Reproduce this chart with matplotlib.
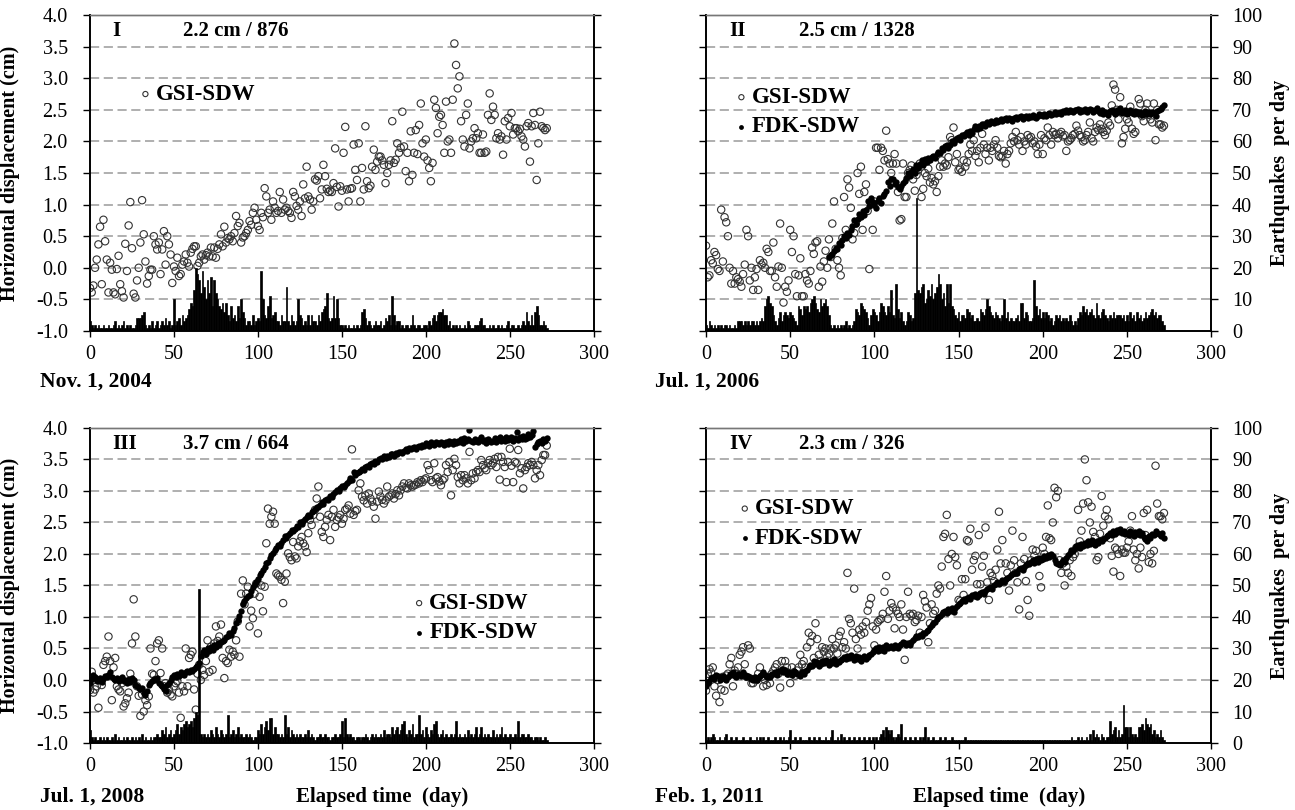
import numpy as np
import matplotlib
matplotlib.use("Agg")
import matplotlib.pyplot as plt

plt.rcParams['font.family'] = ['Liberation Serif', 'DejaVu Serif']

# ---------------- data (displacement in cm, earthquakes per day) ----------------
gsi_1 = [-0.32,-0.39,-0.28,0.00,0.13,0.37,0.65,-0.26,0.76,0.42,
 0.13,-0.39,0.08,-0.03,-0.39,-0.42,-0.02,0.19,-0.26,-0.37,
 -0.47,0.38,-0.05,0.67,1.04,0.31,-0.41,-0.47,-0.20,0.00,
 0.40,1.07,0.53,0.10,-0.25,-0.13,-0.03,-0.03,0.50,0.37,
 0.29,0.40,-0.10,0.29,0.58,0.05,0.50,0.37,0.21,-0.24,
 0.02,-0.05,0.16,-0.13,-0.10,0.05,0.10,0.21,0.08,0.02,
 0.24,0.30,0.34,0.34,0.03,0.08,0.18,0.21,0.13,0.20,
 0.24,0.18,0.32,0.18,0.32,0.16,0.30,0.37,0.53,0.34,
 0.65,0.40,0.47,0.45,0.50,0.42,0.55,0.82,0.66,0.71,
 0.40,0.48,0.50,0.55,0.60,0.74,0.68,0.87,0.95,0.76,
 0.66,0.60,0.87,0.80,1.26,1.13,0.87,0.92,0.76,1.05,
 0.95,0.87,0.90,1.20,0.87,1.08,0.92,0.95,0.90,0.87,
 0.79,1.20,1.13,0.98,0.92,1.05,0.82,1.32,1.10,1.60,
 1.13,1.08,0.92,1.05,1.40,1.38,1.45,1.10,1.24,1.63,
 1.45,1.25,1.20,1.22,1.20,1.34,1.89,1.28,0.97,1.29,
 1.22,1.82,2.23,1.24,1.05,1.25,1.26,1.95,1.55,1.39,
 1.97,1.05,1.58,1.24,2.24,1.37,1.26,1.30,1.60,1.87,
 1.55,1.68,1.76,1.76,1.70,1.63,1.34,1.50,1.63,1.70,
 2.32,1.66,1.71,1.97,1.82,1.90,2.47,1.92,1.53,1.82,
 1.37,2.16,1.47,1.82,2.18,1.80,2.26,2.60,1.97,1.76,
 2.03,1.70,1.58,1.37,1.66,2.66,2.53,2.13,2.39,2.42,
 2.26,1.82,2.63,2.00,2.03,1.82,2.66,3.55,3.21,2.84,
 3.03,2.32,2.03,1.92,2.42,2.60,1.89,2.00,2.05,2.21,
 2.05,2.13,1.82,1.82,2.11,1.82,1.84,2.42,2.76,2.34,
 2.55,2.42,2.05,2.13,2.03,2.08,1.79,2.32,2.03,2.37,
 2.24,2.45,2.11,2.21,2.21,2.16,2.20,2.08,2.03,1.92,
 2.24,2.29,1.68,2.24,2.45,2.26,1.39,1.97,2.47,2.24,
 2.21,2.18,2.21]

eq_1 = [3,2,1,2,1,2,1,1,2,1, 1,2,1,1,2,3,1,2,1,2, 3,1,2,1,2,1,1,2,4,4,
 4,5,6,2,1,2,1,3,1,2, 3,1,2,3,2,4,2,3,1,2, 10,2,3,4,2,5,3,4,5,7,
 9,8,13,20,18,16,12,19,14,10, 16,12,17,8,16,12,10,8,7,9, 6,9,5,3,8,4,5,3,8,4,
 10,6,4,2,3,3,2,5,2,3, 4,3,19,10,5,4,8,11,4,5, 6,3,3,2,5,3,3,14,3,2,
 5,3,2,3,10,5,4,2,3,2, 5,2,5,3,3,2,5,3,6,7, 8,12,4,3,4,11,4,10,4,2,
 2,1,2,1,2,1,1,2,1,2, 1,2,6,7,4,2,3,2,1,2, 3,2,2,3,1,2,4,3,5,2,
 11,5,2,3,3,1,2,1,2,2, 1,2,5,2,1,2,2,1,1,2, 2,1,3,2,4,5,3,5,6,6,
 7,5,5,2,3,1,2,1,2,1, 2,1,1,2,1,3,2,1,1,2, 2,2,3,4,2,2,1,1,2,1,
 2,1,1,2,1,2,1,1,2,3, 1,2,2,1,1,2,1,2,3,2, 6,3,2,5,2,6,8,5,2,2, 3,2,1]

gsi_2 = [0.35,-0.15,-0.12,0.12,0.07,0.25,0.20,-0.02,-0.05,0.92,
 0.10,0.80,0.72,0.50,0.00,-0.25,-0.05,-0.25,-0.15,-0.18,
 -0.22,-0.30,-0.10,0.05,0.60,0.50,-0.20,0.00,-0.35,-0.15,
 -0.02,-0.35,0.12,0.05,0.08,0.00,0.30,0.25,-0.05,-0.05,
 0.40,-0.15,-0.30,0.02,0.70,0.00,-0.55,-0.30,-0.38,-0.20,
 0.60,0.25,0.50,-0.10,-0.45,-0.12,0.15,-0.45,-0.45,-0.10,
 -0.20,-0.25,-0.05,0.32,0.22,0.40,0.42,-0.30,0.02,-0.22,
 0.10,0.27,0.00,0.45,0.17,0.70,1.05,0.30,0.12,0.00,
 -0.12,0.47,1.12,0.60,1.40,1.27,0.95,0.45,0.55,0.70,
 1.50,1.17,1.60,0.60,1.20,1.32,0.90,-0.02,1.00,0.60,
 1.05,1.90,1.90,1.55,1.90,1.85,1.70,2.17,1.72,1.65,
 1.50,1.65,1.80,1.65,1.20,0.75,0.77,1.65,1.12,1.12,
 1.50,1.55,1.62,1.40,1.22,1.47,1.55,1.65,1.12,1.25,
 1.50,1.45,1.57,1.35,1.42,1.32,1.37,1.20,1.45,1.60,
 1.70,1.60,1.65,1.62,1.75,2.07,2.02,2.22,1.67,1.80,
 1.55,1.57,1.52,1.70,1.60,1.67,1.80,1.95,1.85,2.02,
 1.77,1.85,1.67,1.90,2.12,1.95,1.80,1.90,1.70,1.90,
 1.85,1.95,2.02,1.90,1.77,1.75,1.77,1.85,1.65,1.80,
 1.85,1.97,2.07,2.00,2.15,2.02,1.95,2.07,1.85,2.00,
 1.95,2.10,2.05,2.07,1.97,2.00,1.92,1.80,1.95,2.10,
 1.80,2.05,2.02,2.22,2.10,1.95,2.15,2.10,2.12,2.05,
 2.12,2.15,2.08,2.10,1.85,2.00,2.02,2.05,2.10,2.12,
 2.25,2.17,2.10,2.07,2.00,2.02,2.10,2.15,2.30,2.05,
 2.00,2.15,2.22,2.18,2.27,2.20,2.15,2.10,2.17,2.30,
 2.25,2.57,2.90,2.82,2.50,2.35,2.70,1.97,2.07,2.20,
 2.35,2.30,2.55,2.20,2.12,2.15,2.45,2.67,2.60,2.40,
 2.32,2.50,2.60,2.42,2.35,2.30,2.60,2.02,2.50,2.27,
 2.27,2.22,2.25]

fdk_2_start = 73
fdk_2 = [0.17,0.20,0.22,0.27,0.32,0.30,0.40,0.36,0.44,0.50,
 0.47,0.55,0.52,0.60,0.66,0.75,0.70,0.78,0.85,0.80,
 0.90,0.84,0.92,1.05,0.98,1.10,1.04,1.00,0.95,1.06,
 1.10,1.02,1.14,1.17,1.22,1.35,1.30,1.40,1.40,1.32,
 1.35,1.28,1.25,1.30,1.34,1.37,1.42,1.50,1.46,1.52,
 1.57,1.50,1.62,1.58,1.65,1.70,1.62,1.72,1.68,1.74,
 1.70,1.76,1.77,1.73,1.80,1.84,1.82,1.90,1.86,1.92,
 1.95,1.90,1.95,2.00,1.97,2.02,2.05,2.07,2.03,2.10,
 2.08,2.12,2.15,2.10,2.17,2.14,2.20,2.25,2.19,2.24,
 2.22,2.27,2.27,2.24,2.30,2.28,2.32,2.30,2.29,2.34,
 2.31,2.33,2.36,2.32,2.35,2.37,2.34,2.37,2.36,2.33,
 2.37,2.39,2.35,2.38,2.40,2.36,2.39,2.41,2.37,2.40,
 2.38,2.42,2.39,2.37,2.41,2.43,2.42,2.40,2.44,2.41,
 2.43,2.45,2.42,2.44,2.46,2.43,2.45,2.47,2.44,2.48,
 2.46,2.49,2.47,2.50,2.48,2.46,2.50,2.49,2.52,2.47,
 2.50,2.48,2.51,2.47,2.49,2.52,2.50,2.46,2.49,2.53,
 2.48,2.45,2.50,2.44,2.47,2.45,2.42,2.48,2.50,2.46,
 2.44,2.49,2.47,2.53,2.45,2.47,2.50,2.44,2.46,2.49,
 2.45,2.43,2.48,2.46,2.44,2.47,2.42,2.45,2.48,2.43,
 2.46,2.44,2.47,2.45,2.41,2.48,2.50,2.52,2.55,2.57]

eq_2 = [2,1,3,2,1,2,1,2,1,2, 1,2,2,1,2,1,1,2,1,3, 3,3,2,3,2,3,2,3,3,2,
 3,2,3,4,3,8,10,11,9,8, 5,3,2,4,6,3,5,6,5,4, 6,5,4,3,2,8,7,5,8,7,
 8,6,9,10,11,9,7,6,10,8, 9,10,8,5,2,1,2,1,2,1, 2,1,2,3,1,2,1,2,3,7,
 6,5,9,8,7,6,4,2,5,7, 6,5,3,6,9,8,6,5,8,6, 13,5,4,15,7,4,6,3,2,3,
 6,5,3,4,12,42,13,12,14,15, 9,10,13,11,15,10,12,14,18,15, 10,12,8,15,9,15,8,7,5,4,
 6,3,5,5,4,7,6,4,5,3, 3,4,3,7,6,5,7,10,8,6, 5,4,6,5,4,3,5,10,4,6,
 3,4,3,3,4,5,3,9,9,4, 6,5,3,3,4,16,8,5,7,4, 6,4,6,5,3,4,2,3,5,4,
 5,3,4,3,4,3,5,3,2,3, 2,4,6,5,8,6,7,5,6,7, 5,4,9,5,4,6,7,5,4,3,
 5,4,6,4,5,5,5,4,5,3, 5,3,6,4,5,3,6,4,5,3, 4,6,4,5,6,7,5,6,4,5, 5,3,2]

gsi_3 = [-0.16,0.13,-0.20,-0.15,-0.10,-0.44,0.00,-0.08,0.24,0.30,
 0.37,0.69,0.30,-0.32,0.20,0.35,-0.10,-0.15,-0.18,-0.05,
 -0.42,-0.37,-0.29,-0.20,0.10,0.58,1.28,0.69,-0.10,-0.25,
 -0.57,-0.23,-0.50,-0.32,-0.40,-0.26,0.50,0.10,0.08,0.30,
 0.58,0.63,0.11,0.50,-0.10,-0.05,-0.20,-0.15,-0.23,-0.26,
 -0.10,-0.05,-0.02,-0.20,-0.60,-0.10,-0.18,0.50,-0.10,0.35,
 0.40,0.45,-0.15,-0.47,0.10,0.24,0.00,0.16,0.08,0.30,
 0.63,0.13,0.53,0.16,0.58,0.85,0.62,0.69,0.88,0.35,
 0.03,0.30,0.27,0.48,0.37,0.45,0.40,0.63,0.93,0.37,
 1.37,1.58,1.20,1.37,1.48,0.85,1.10,0.98,1.37,1.53,
 0.74,1.32,1.50,1.09,1.48,2.17,2.72,2.48,2.59,2.67,
 2.48,1.69,1.66,1.64,1.59,1.22,1.56,1.69,2.01,1.95,
 1.90,2.19,1.96,1.93,2.12,2.20,2.27,2.17,2.12,2.03,
 2.33,2.54,2.46,2.62,2.70,2.88,3.07,2.59,2.35,2.27,
 2.43,2.54,2.62,2.22,2.59,2.70,2.43,2.54,2.58,2.62,
 2.48,2.56,2.70,2.72,2.77,2.64,3.66,2.62,2.68,2.70,
 3.01,3.12,2.91,2.85,2.93,2.80,2.96,2.88,2.83,2.75,
 2.56,2.83,2.99,2.91,2.86,2.80,2.85,3.07,2.91,2.93,
 2.96,2.88,2.95,3.01,2.93,3.01,3.07,3.12,3.05,3.04,
 3.12,3.09,3.07,3.09,3.10,3.14,3.12,3.17,3.14,3.18,
 3.20,3.41,3.33,3.17,3.14,3.44,3.20,3.22,3.15,3.09,
 3.17,3.20,3.41,3.30,3.46,2.93,3.33,3.51,3.41,3.22,
 3.12,3.25,3.17,3.25,3.20,3.12,3.62,3.17,3.28,3.20,
 3.30,3.33,3.30,3.49,3.41,3.36,3.33,3.44,3.49,3.41,
 3.44,3.51,3.38,3.54,3.18,3.54,3.46,3.38,3.14,3.46,
 3.67,3.40,3.14,3.46,3.44,3.65,3.28,3.36,3.04,3.33,
 3.38,3.44,3.41,3.46,3.41,3.20,3.33,3.41,3.25,3.49,
 3.57,3.57,3.72]

fdk_3 = [-0.05,0.02,0.08,0.05,-0.02,0.00,0.03,-0.03,0.01,0.06,
 0.04,0.08,0.12,0.05,0.02,0.00,0.03,-0.02,0.01,0.04,
 -0.02,0.00,-0.05,0.02,-0.03,0.03,0.00,-0.08,-0.10,-0.12,
 -0.15,-0.12,-0.20,-0.24,-0.18,-0.08,-0.05,-0.02,0.02,0.00,
 0.03,-0.04,-0.08,-0.10,-0.14,-0.18,-0.08,-0.05,0.00,0.04,
 0.08,0.05,0.10,0.07,0.12,0.10,0.08,0.13,0.15,0.12,
 0.16,0.14,0.18,0.20,0.22,0.27,0.38,0.45,0.48,0.42,
 0.50,0.46,0.52,0.48,0.55,0.53,0.58,0.55,0.60,0.62,
 0.64,0.68,0.70,0.74,0.72,0.78,0.82,0.90,0.95,1.02,
 1.10,1.20,1.25,1.30,1.34,1.35,1.42,1.48,1.52,1.56,
 1.60,1.66,1.70,1.74,1.80,1.85,1.88,1.94,1.98,2.02,
 2.06,2.10,2.15,2.12,2.18,2.22,2.28,2.26,2.30,2.34,
 2.38,2.36,2.40,2.44,2.42,2.50,2.48,2.52,2.56,2.58,
 2.62,2.60,2.66,2.68,2.72,2.75,2.74,2.78,2.82,2.80,
 2.85,2.88,2.86,2.92,2.90,2.95,2.98,3.02,3.00,3.05,
 3.08,3.06,3.10,3.12,3.15,3.20,3.18,3.30,3.26,3.28,
 3.30,3.32,3.35,3.33,3.38,3.40,3.38,3.42,3.45,3.43,
 3.48,3.46,3.50,3.52,3.50,3.55,3.53,3.56,3.54,3.58,
 3.58,3.56,3.60,3.59,3.62,3.62,3.60,3.64,3.66,3.63,
 3.68,3.66,3.68,3.70,3.67,3.70,3.72,3.69,3.73,3.71,
 3.76,3.74,3.72,3.77,3.75,3.73,3.78,3.76,3.74,3.77,
 3.76,3.73,3.78,3.75,3.80,3.77,3.74,3.79,3.76,3.80,
 3.78,3.82,3.76,3.84,3.79,3.82,3.96,3.80,3.78,3.83,
 3.80,3.77,3.82,3.85,3.79,3.81,3.76,3.83,3.80,3.78,
 3.80,3.84,3.78,3.82,3.86,3.80,3.83,3.79,3.85,3.81,
 3.82,3.86,3.80,3.84,3.93,3.81,3.85,3.83,3.87,3.82,
 3.84,3.90,3.86,3.88,3.95,3.70,3.74,3.78,3.80,3.76,
 3.82,3.80,3.84]

eq_3 = [4,2,1,2,1,1,2,1,2,1, 2,1,1,2,1,3,1,2,1,1, 2,1,2,1,1,2,1,2,1,2,
 1,3,1,2,1,1,2,1,2,2, 3,2,2,4,3,5,2,3,4,2, 3,4,6,3,5,4,6,7,5,6,
 7,5,8,10,9,49,3,2,3,2, 3,2,4,3,2,5,3,2,4,3, 2,3,9,2,3,4,2,3,5,2,
 3,2,2,3,2,3,2,1,2,2, 4,3,6,3,5,7,4,8,8,3, 5,3,3,2,3,2,9,3,5,2,
 4,3,2,3,2,3,2,2,3,2, 4,2,3,2,1,2,2,3,2,2, 3,2,2,1,2,2,3,2,2,3,
 7,2,8,3,2,3,2,2,1,2, 2,1,2,2,3,2,1,2,3,2, 3,2,2,3,2,4,2,3,3,2,
 5,3,4,5,3,4,6,7,3,2, 4,3,6,2,3,3,9,3,4,2, 5,3,2,4,3,6,7,3,2,3,
 4,2,3,2,2,3,2,3,7,2, 3,2,2,3,2,4,2,3,2,3, 5,2,3,5,2,3,2,3,2,2,
 4,2,3,2,3,5,2,3,2,2, 3,2,2,3,2,7,2,3,3,2, 2,3,2,2,1,2,2,1,2,1, 1,2,1]

gsi_4 = [-0.17,0.10,0.17,0.12,0.20,-0.10,-0.25,0.00,-0.35,-0.15,
 0.05,-0.17,0.07,0.10,0.25,0.35,-0.10,0.15,0.10,0.20,
 0.40,0.45,0.52,0.25,0.05,0.55,0.50,-0.05,-0.05,0.02,
 0.00,0.10,0.20,0.05,-0.10,0.00,-0.08,0.05,-0.05,0.10,
 0.15,0.20,0.25,0.10,-0.12,0.30,0.15,0.30,0.20,0.10,
 -0.05,0.20,0.12,0.07,0.15,0.20,0.40,0.25,0.30,0.20,
 0.52,0.75,0.60,0.70,0.35,0.90,0.65,0.40,0.30,0.52,
 0.45,0.50,0.37,0.42,0.50,0.65,0.50,0.55,0.42,0.70,
 0.77,0.52,0.60,0.50,1.70,0.97,0.90,0.75,1.45,0.65,
 0.50,0.80,0.72,0.85,0.75,0.92,1.10,1.20,1.30,0.85,
 0.55,0.80,0.92,0.95,0.97,1.05,1.40,1.65,0.97,1.10,
 1.22,1.15,0.82,1.10,1.05,1.00,1.20,0.80,0.32,1.00,
 1.40,1.05,1.02,1.05,0.92,0.95,1.02,0.75,1.00,1.35,
 1.25,1.15,0.60,0.90,1.20,1.05,1.10,1.37,1.50,1.45,
 1.80,2.27,2.32,2.62,1.92,1.50,2.00,2.27,1.95,1.82,
 1.27,1.25,1.60,1.35,1.60,2.22,2.20,2.40,1.75,1.90,
 1.97,1.52,2.30,1.52,1.80,1.97,2.42,1.55,1.27,1.70,
 1.65,1.57,1.75,2.07,2.67,1.85,2.22,1.55,1.85,1.70,
 1.42,1.82,2.37,1.90,1.70,1.55,1.12,1.85,2.27,1.92,
 1.57,1.27,1.02,1.90,2.07,1.97,2.05,1.90,1.65,1.47,
 2.10,2.00,2.27,2.77,2.25,2.22,2.50,3.05,2.90,3.00,
 1.90,1.70,1.85,1.50,1.80,1.70,1.90,1.65,1.95,2.00,
 2.10,2.70,2.20,2.37,2.80,3.50,3.17,2.82,2.50,2.75,
 2.35,2.27,1.90,1.95,2.32,2.92,2.45,2.60,2.70,2.55,
 2.25,1.97,1.72,2.10,2.07,2.00,1.65,2.07,2.02,2.02,
 2.10,2.20,2.37,2.60,2.07,1.90,2.00,1.77,2.10,1.95,
 2.65,2.30,2.70,1.87,2.00,1.85,2.05,3.40,2.80,2.60,
 2.60,2.55,2.65]

fdk_4 = [-0.10,-0.05,-0.02,0.03,0.05,0.02,0.08,0.06,0.00,0.04,
 0.06,0.02,0.00,0.05,0.10,0.08,0.12,0.07,0.05,0.09,
 0.10,0.06,0.12,0.08,0.04,0.07,0.05,0.02,0.00,0.04,
 0.00,0.03,0.06,0.10,0.12,0.08,0.05,0.07,0.04,0.09,
 0.10,0.12,0.08,0.14,0.15,0.18,0.12,0.16,0.10,0.13,
 0.11,0.08,0.14,0.12,0.09,0.10,0.06,0.13,0.09,0.15,
 0.16,0.20,0.24,0.22,0.30,0.25,0.28,0.22,0.26,0.30,
 0.27,0.32,0.28,0.24,0.30,0.27,0.33,0.25,0.30,0.28,
 0.31,0.34,0.36,0.33,0.38,0.35,0.40,0.36,0.32,0.38,
 0.34,0.37,0.30,0.35,0.38,0.33,0.36,0.40,0.42,0.45,
 0.48,0.50,0.46,0.52,0.48,0.53,0.46,0.55,0.50,0.52,
 0.54,0.50,0.56,0.53,0.51,0.55,0.57,0.60,0.58,0.56,
 0.58,0.55,0.60,0.63,0.66,0.70,0.68,0.72,0.70,0.74,
 0.75,0.78,0.80,0.84,0.88,0.90,0.92,0.96,1.00,1.02,
 1.05,1.08,1.10,1.06,1.12,1.10,1.14,1.08,1.15,1.18,
 1.20,1.22,1.25,1.28,1.26,1.30,1.32,1.28,1.35,1.33,
 1.36,1.32,1.35,1.38,1.40,1.37,1.42,1.44,1.46,1.48,
 1.45,1.50,1.52,1.55,1.53,1.56,1.58,1.55,1.60,1.62,
 1.64,1.66,1.68,1.70,1.72,1.70,1.76,1.78,1.75,1.80,
 1.82,1.86,1.84,1.88,1.90,1.86,1.92,1.88,1.94,1.90,
 1.92,1.96,1.94,1.98,1.95,2.00,1.96,1.90,1.86,1.84,
 1.82,1.86,1.90,1.88,1.94,1.98,2.02,2.06,2.05,2.10,
 2.12,2.14,2.10,2.16,2.12,2.18,2.15,2.20,2.16,2.22,
 2.18,2.14,2.20,2.17,2.22,2.20,2.24,2.26,2.28,2.30,
 2.34,2.30,2.36,2.32,2.38,2.35,2.40,2.33,2.37,2.31,
 2.34,2.30,2.36,2.32,2.28,2.35,2.31,2.36,2.30,2.34,
 2.27,2.24,2.20,2.28,2.25,2.32,2.30,2.36,2.33,2.31,
 2.28,2.34,2.26]

eq_4 = [1,2,1,2,3,2,1,1,2,1, 1,2,3,1,1,2,1,1,2,1, 1,1,2,1,1,1,2,1,1,1,
 2,1,2,1,2,1,1,2,1,1, 1,2,1,1,2,1,2,1,1,2, 4,1,1,2,1,1,2,1,1,1,
 1,2,1,1,2,1,1,2,1,1, 1,2,1,1,2,4,1,1,2,1, 3,1,2,1,1,2,1,1,2,1,
 1,2,1,1,2,1,1,2,1,2, 1,2,1,2,3,4,2,5,4,3, 4,2,1,2,3,2,6,1,2,1,
 1,2,1,1,2,1,1,2,1,2, 5,1,2,1,1,2,1,1,1,2, 1,1,2,1,1,1,2,1,1,1,
 1,1,1,1,2,1,1,1,1,1, 1,1,1,1,1,1,1,1,1,1, 1,1,1,1,1,1,1,1,1,1,
 1,1,1,1,1,1,1,1,1,1, 1,1,1,1,1,1,1,1,1,1, 1,1,1,1,1,1,1,1,1,1,
 1,1,1,1,1,1,1,2,1,1, 1,2,1,2,1,1,2,1,3,1, 4,2,3,2,1,3,2,1,2,2,
 7,3,4,5,2,4,2,3,12,5, 5,2,5,3,2,3,2,5,5,6, 4,8,6,5,6,3,4,2,3,2, 4,2,1]

panel_ids = ["I", "II", "III", "IV"]
panel_titles = ["2.2 cm / 876", "2.5 cm / 1328", "3.7 cm / 664", "2.3 cm / 326"]
start_dates = ["Nov. 1, 2004", "Jul. 1, 2006", "Jul. 1, 2008", "Feb. 1, 2011"]
x_ticks = [0, 50, 100, 150, 200, 250, 300]
y_ticks = [-1.0, -0.5, 0.0, 0.5, 1.0, 1.5, 2.0, 2.5, 3.0, 3.5, 4.0]
eq_ticks = [0, 10, 20, 30, 40, 50, 60, 70, 80, 90, 100]

# ---------------- figure ----------------
fig = plt.figure(figsize=(12.95, 8.1), dpi=100)
positions = [[0.0695, 0.5914, 0.389, 0.390],
             [0.5452, 0.5914, 0.390, 0.390],
             [0.0695, 0.0827, 0.389, 0.389],
             [0.5452, 0.0827, 0.390, 0.389]]

gsi_all = [gsi_1, gsi_2, gsi_3, gsi_4]
fdk_all = [None, (fdk_2_start, fdk_2), (0, fdk_3), (0, fdk_4)]
eq_all = [eq_1, eq_2, eq_3, eq_4]
legend_pos = [(33, 2.75), (21, 2.70), (196, 1.22), (23, 2.72)]

TICK_FS = 14.5
TITLE_FS = 15
LEG_FS = 16.5
LABEL_FS = 14.5

for i in range(4):
    ax = fig.add_axes(positions[i])
    left = i in (0, 2)
    ax.set_xlim(0, 300)
    ax.set_ylim(-1, 4)
    for y in y_ticks[1:-1]:
        ax.axhline(y, color='#9a9a9a', lw=1.1, ls=(0, (6, 3)), zorder=0)

    g = gsi_all[i]
    ax.scatter(np.arange(len(g)), g, s=28, facecolors='none',
               edgecolors='#333333', linewidths=0.8, zorder=3)
    if fdk_all[i] is not None:
        st, f = fdk_all[i]
        ax.scatter(np.arange(st, st + len(f)), f, s=21, color='black',
                   linewidths=0, zorder=4)

    ax2 = ax.twinx()
    ax2.set_ylim(0, 100)
    e = eq_all[i]
    ax2.bar(np.arange(len(e)), e, width=1.0, color='black',
            edgecolor='black', linewidth=0.5)

    # ticks
    ax.set_xticks(x_ticks)
    ax.set_xticklabels([str(t) for t in x_ticks], fontsize=TICK_FS)
    ax.set_yticks(y_ticks)
    if left:
        ax.set_yticklabels(["%.1f" % t for t in y_ticks], fontsize=TICK_FS)
    else:
        ax.set_yticklabels([])
    ax2.set_yticks(eq_ticks)
    if left:
        ax2.set_yticklabels([])
    else:
        ax2.set_yticklabels([str(t) for t in eq_ticks], fontsize=TICK_FS)
    ax.tick_params(axis='x', direction='out', length=4, width=1.0, pad=6)
    ax.tick_params(axis='y', direction='out', length=5, width=1.0, pad=11)
    ax2.tick_params(axis='y', direction='out', length=5, width=1.0, pad=10)
    for a in (ax, ax2):
        for s in a.spines.values():
            s.set_linewidth(1.2)
            s.set_color('black')
        a.spines['top'].set_color('#777777')
        a.spines['top'].set_linewidth(1.0)

    # panel texts
    ax.text(0.045, 0.95, panel_ids[i], transform=ax.transAxes, fontsize=TITLE_FS,
            fontweight='bold', ha='left', va='center')
    ax.text(0.185, 0.95, panel_titles[i], transform=ax.transAxes, fontsize=TITLE_FS,
            fontweight='bold', ha='left', va='center')

    lx, ly = legend_pos[i]
    ax.scatter([lx], [ly], s=14, facecolors='none', edgecolors='#333333',
               linewidths=0.8, zorder=5)
    ax.text(lx + 6, ly, "GSI-SDW", fontsize=LEG_FS, fontweight='bold',
            ha='left', va='center')
    if i > 0:
        ly2 = ly - 0.47
        ax.scatter([lx], [ly2], s=12, color='black', linewidths=0, zorder=5)
        ax.text(lx + 6, ly2, "FDK-SDW", fontsize=LEG_FS, fontweight='bold',
                ha='left', va='center')

    if left:
        ax.set_ylabel("Horizontal displacement (cm)", fontsize=LABEL_FS,
                      fontweight='bold')
        ax.yaxis.set_label_coords(-0.138, 0.5)
    else:
        ax2.set_ylabel("Earthquakes  per day", fontsize=LABEL_FS,
                       fontweight='bold')
        ax2.yaxis.set_label_coords(1.117, 0.5)

    xd = 0.031 if left else 0.506
    yd = 0.529 if i < 2 else 0.016
    fig.text(xd, yd, start_dates[i], fontsize=15.5, fontweight='bold',
             ha='left', va='center')
    if i >= 2:
        ax.text(0.58, -0.17, "Elapsed time  (day)", transform=ax.transAxes,
                fontsize=LABEL_FS + 0.5, fontweight='bold', ha='center',
                va='center')

fig.savefig("out.png", dpi=100)
